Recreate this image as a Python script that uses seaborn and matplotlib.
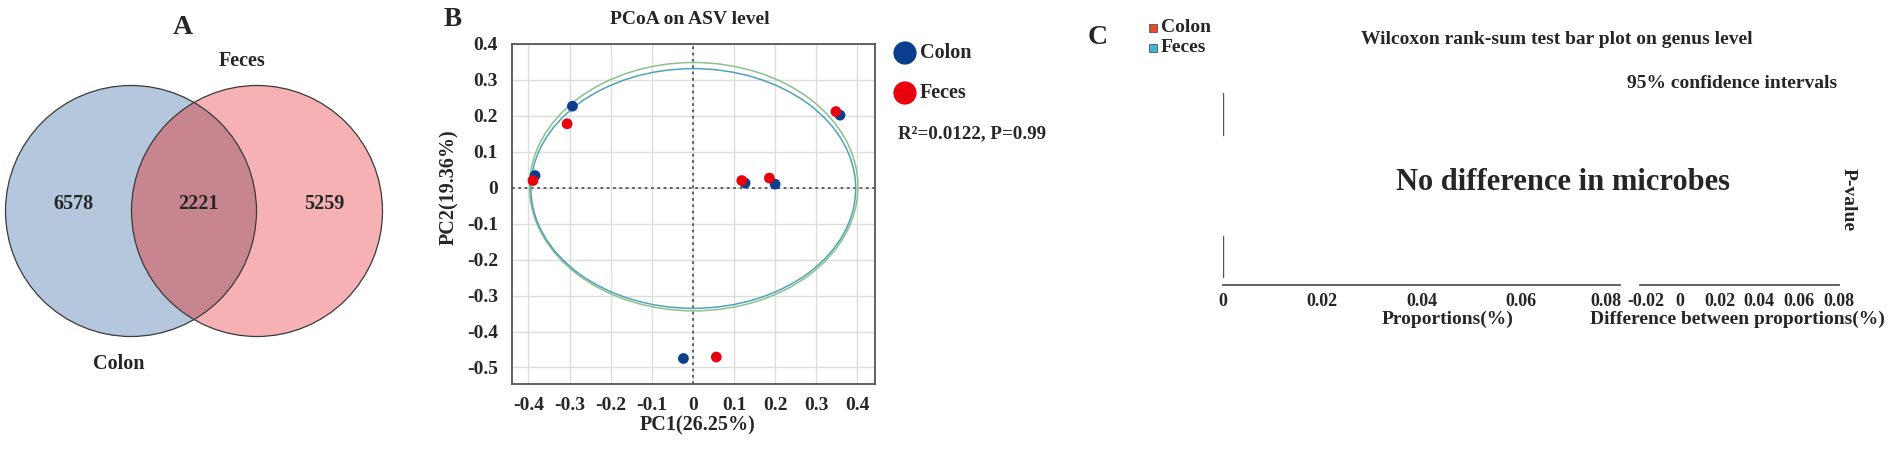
import numpy as np
import pandas as pd
import matplotlib
matplotlib.use("Agg")
import matplotlib.pyplot as plt
import matplotlib.transforms as mtransforms
from matplotlib.patches import Circle, Ellipse, Rectangle
import seaborn as sns

# Panel A - Venn counts
venn_sets = ["Colon", "Feces"]
venn_counts = [6578, 2221, 5259]  # colon only, shared, feces only

# Panel B - PCoA coordinates per sample
groups = ["Colon"] * 6 + ["Feces"] * 6
pc1 = [-0.293, -0.384, 0.127, 0.200, 0.358, -0.023,
       -0.306, -0.389, 0.119, 0.186, 0.348, 0.057]
pc2 = [0.227, 0.034, 0.013, 0.010, 0.202, -0.475,
       0.178, 0.020, 0.020, 0.027, 0.212, -0.471]
pc1_label = "PC1(26.25%)"
pc2_label = "PC2(19.36%)"
stat_text = "R²=0.0122, P=0.99"

# group ellipses: centre x, centre y, width, height
ellipse_colon = [0.001, -0.002, 0.790, 0.667]
ellipse_feces = [0.002, 0.003, 0.799, 0.691]

# Panel C - empty wilcoxon bar plot, only axes
prop_ticks = [0, 0.02, 0.04, 0.06, 0.08]
diff_ticks = [-0.02, 0, 0.02, 0.04, 0.06, 0.08]

sns.set_theme(style="white")
plt.rcParams["font.family"] = ["Liberation Serif", "DejaVu Serif"]
plt.rcParams["font.weight"] = "bold"
plt.rcParams["axes.labelweight"] = "bold"

W, H = 1901, 451
fig = plt.figure(figsize=(W / 100, H / 100), dpi=100)


def rect(l, t, r, b):
    # pixel box -> figure fraction
    return [l / W, 1 - b / H, (r - l) / W, (b - t) / H]


def tick_text(v):
    return "0" if abs(v) < 1e-9 else f"{v:g}"


# overlay in pixel coordinates for the free text
over = fig.add_axes([0, 0, 1, 1])
over.set_xlim(0, W)
over.set_ylim(H, 0)
over.axis("off")

# ---------------- A: Venn ----------------
ax_a = fig.add_axes(rect(0, 0, 400, 451))
ax_a.set_xlim(0, 400)
ax_a.set_ylim(451, 0)
ax_a.axis("off")
r = 125.5
left = Circle((131, 211), r, fc="#b4c7dd", ec="none")
right = Circle((257, 211), r, fc="#f6b1b4", ec="none")
ax_a.add_patch(left)
ax_a.add_patch(right)
both = Circle((257, 211), r, fc="#c6858f", ec="none")
ax_a.add_patch(both)
both.set_clip_path(left)
for cx in [131, 257]:
    ax_a.add_patch(Circle((cx, 211), r, fill=False, ec="#3a3a3a", lw=0.9))
for x, n in zip([73, 198, 324], venn_counts):
    ax_a.text(x, 204, str(n), ha="center", va="center", fontsize=14.5, fontweight="bold")
ax_a.text(242, 61, venn_sets[1], ha="center", va="center", fontsize=14.5, fontweight="bold")
ax_a.text(119, 364, venn_sets[0], ha="center", va="center", fontsize=14.5, fontweight="bold")
ax_a.text(183, 27, "A", ha="center", va="center", fontsize=20, fontweight="bold")

# ---------------- B: PCoA ----------------
ax_b = fig.add_axes(rect(512, 44, 875, 384))
df = pd.DataFrame({"PC1": pc1, "PC2": pc2, "group": groups})
palette = {"Colon": "#0b3f8e", "Feces": "#e8000f"}

ax_b.add_patch(Ellipse(ellipse_feces[:2], ellipse_feces[2], ellipse_feces[3],
                       fill=False, ec="#8cc08c", lw=1.1, zorder=2))
ax_b.add_patch(Ellipse(ellipse_colon[:2], ellipse_colon[2], ellipse_colon[3],
                       fill=False, ec="#4fa3b8", lw=1.1, zorder=2))
ax_b.axvline(0, color="#555555", ls=(0, (1.5, 2)), lw=1.3, zorder=1)
ax_b.axhline(0, color="#555555", ls=(0, (1.5, 2)), lw=1.3, zorder=1)
sns.scatterplot(data=df, x="PC1", y="PC2", hue="group", palette=palette,
                s=60, edgecolor="none", legend=False, ax=ax_b, zorder=3)

xt = np.round(np.arange(-0.4, 0.41, 0.1), 1)
yt = np.round(np.arange(-0.5, 0.41, 0.1), 1)
ax_b.set_xticks(xt)
ax_b.set_xticklabels([tick_text(v) for v in xt])
ax_b.set_yticks(yt)
ax_b.set_yticklabels([tick_text(v) for v in yt])
ax_b.set_xlim(-0.44, 0.443)
ax_b.set_ylim(-0.546, 0.4)
ax_b.grid(True, color="#dddddd", lw=1)
ax_b.set_axisbelow(True)
for s in ax_b.spines.values():
    s.set_color("#555555")
    s.set_linewidth(1.3)
ax_b.tick_params(axis="both", length=5, width=1, color="#555555", labelsize=14)
ax_b.tick_params(axis="x", pad=4)
ax_b.tick_params(axis="y", pad=5)
ax_b.set_xlabel(pc1_label, fontsize=14.5, fontweight="bold")
ax_b.set_ylabel(pc2_label, fontsize=14.5, fontweight="bold")
ax_b.xaxis.set_label_coords(0.512, -0.094)
ax_b.yaxis.set_label_coords(-0.145, 0.578)

over.text(453, 20, "B", ha="center", va="center", fontsize=19.5, fontweight="bold")
over.text(690, 20, "PCoA on ASV level", ha="center", va="center", fontsize=14, fontweight="bold")
for y, g in zip([53, 93], ["Colon", "Feces"]):
    over.scatter([905], [y], s=280, color=palette[g], edgecolor="none")
    over.text(920, y, g, ha="left", va="center", fontsize=14.5, fontweight="bold")
over.text(898, 134, stat_text, ha="left", va="center", fontsize=13.7, fontweight="bold")

# ---------------- C: Wilcoxon ----------------
ax_c1 = fig.add_axes(rect(1223, 93, 1620, 285))
ax_c2 = fig.add_axes(rect(1640, 93, 1839, 285))
for ax, ticks in [(ax_c1, prop_ticks), (ax_c2, diff_ticks)]:
    ax.set_xlim(ticks[0], ticks[-1])
    ax.set_ylim(0, 1)
    ax.set_xticks(ticks)
    ax.set_xticklabels([tick_text(v) for v in ticks])
    ax.set_yticks([])
    for side in ["top", "right", "left"]:
        ax.spines[side].set_visible(False)
    ax.spines["bottom"].set_color("#555555")
    ax.spines["bottom"].set_linewidth(1.3)
    ax.tick_params(axis="x", direction="in", length=5, width=1, color="#555555",
                   labelsize=13, pad=6)
    ax.patch.set_alpha(0)

# the two touching labels in the gap are pushed apart as in the original
shift_l = mtransforms.ScaledTranslation(-14 / 100, 0, fig.dpi_scale_trans)
shift_r = mtransforms.ScaledTranslation(6 / 100, 0, fig.dpi_scale_trans)
lab = ax_c1.get_xticklabels()[-1]
lab.set_transform(lab.get_transform() + shift_l)
lab = ax_c2.get_xticklabels()[0]
lab.set_transform(lab.get_transform() + shift_r)

ax_c1.axvline(0, ymin=0.042, ymax=0.255, color="#555555", lw=1)
ax_c1.axvline(0, ymin=0.78, ymax=1.0, color="#555555", lw=1)
ax_c1.set_xlabel("Proportions(%)", fontsize=14, fontweight="bold")
ax_c1.xaxis.set_label_coords(0.565, -0.135)
ax_c2.set_xlabel("Difference between proportions(%)", fontsize=14, fontweight="bold")
ax_c2.xaxis.set_label_coords(0.49, -0.135)

over.text(1098, 37, "C", ha="center", va="center", fontsize=20, fontweight="bold")
for y, g, c in zip([28, 48], ["Colon", "Feces"], ["#e8472e", "#3fb6d6"]):
    over.add_patch(Rectangle((1149, y - 4), 8, 8, fc=c, ec="#555555", lw=0.6))
    over.text(1161, y, g, ha="left", va="center", fontsize=14, fontweight="bold")
over.text(1557, 40, "Wilcoxon rank-sum test bar plot on genus level", ha="center",
          va="center", fontsize=14, fontweight="bold")
over.text(1837, 83, "95% confidence intervals", ha="right", va="center",
          fontsize=14, fontweight="bold")
over.text(1563, 183, "No difference in microbes", ha="center", va="center",
          fontsize=22, fontweight="bold")
over.text(1848, 200, "P-value", ha="center", va="center", rotation=-90,
          fontsize=14, fontweight="bold")

fig.savefig("out.png", dpi=100)
